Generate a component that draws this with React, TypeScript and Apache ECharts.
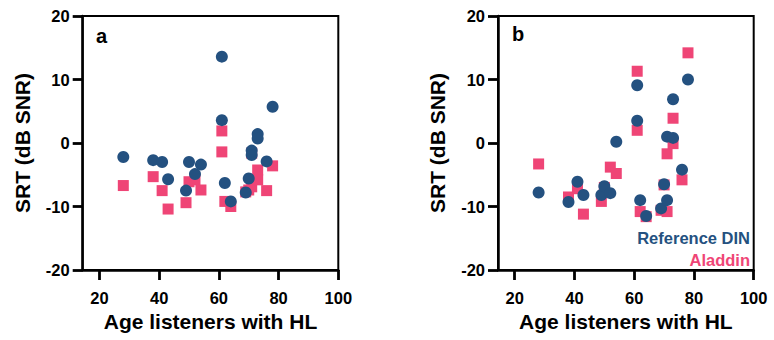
import React, { useEffect, useRef } from "react";
import * as echarts from "echarts";

const ages = [28, 38, 41, 43, 49, 50, 52, 54, 61, 61, 62, 64, 69, 70, 71, 71, 73, 73, 76, 78];
const refA = [-2.2, -2.7, -3.0, -5.7, -7.5, -3.0, -4.9, -3.4, 13.6, 3.6, -6.3, -9.2, -7.8, -5.6, -1.2, -1.9, 1.4, 0.7, -2.9, 5.7];
const aladdinA = [-6.7, -5.3, -7.5, -10.4, -9.4, -6.1, -5.8, -7.4, 1.9, -1.4, -9.2, -10.0, -7.7, -7.4, -1.6, -6.9, -4.25, -5.8, -7.5, -3.6];
const refB = [-7.8, -9.3, -6.1, -8.2, -8.2, -6.8, -7.9, 0.2, 9.1, 3.5, -9.0, -11.5, -10.3, -6.5, 1.0, -9.0, 0.8, 6.9, -4.2, 10.0];
const aladdinB = [-3.3, -8.5, -7.2, -11.2, -9.2, -7.0, -3.8, -4.8, 11.3, 2.0, -10.8, -11.6, -10.6, -6.6, -1.7, -10.8, -0.1, 3.9, -5.8, 14.2];
const xTicks = [20, 40, 60, 80, 100];
const panelLabels = ["a", "b"];
const seriesNames = ["Reference DIN", "Aladdin"];

const BLUE = "#245180";
const PINK = "#ef4576";
const FONT = "Liberation Sans, Arial, sans-serif";

export default function App() {
  const ref = useRef<HTMLDivElement>(null);
  useEffect(() => {
    document.body.style.margin = "0";
    const chart = echarts.init(ref.current!, null, { renderer: "svg" });
    const grids = [
      { left: 82.7, top: 16, width: 255.6, height: 254 },
      { left: 498, top: 16, width: 255.7, height: 254 },
    ];
    const xAxis = grids.map((_, i) => ({
      type: "value",
      gridIndex: i,
      min: 14.4,
      max: 100,
      name: "Age listeners with HL",
      nameLocation: "middle",
      nameGap: 39,
      nameTextStyle: { fontFamily: FONT, fontWeight: "bold", fontSize: 21, color: "#000" },
      axisLine: { show: true, onZero: false, lineStyle: { color: "#000", width: 2.5 } },
      axisTick: { show: true, customValues: xTicks, length: 10, lineStyle: { color: "#000", width: 2.8 } },
      axisLabel: { customValues: xTicks, margin: 19, fontFamily: FONT, fontWeight: "bold", fontSize: 16.5, color: "#000" },
      splitLine: { show: false },
    }));
    const yAxis = grids.map((_, i) => ({
      type: "value",
      gridIndex: i,
      min: -20,
      max: 20,
      interval: 10,
      name: "SRT (dB SNR)",
      nameLocation: "middle",
      nameGap: 50,
      nameTextStyle: { fontFamily: FONT, fontWeight: "bold", fontSize: 21, color: "#000" },
      axisLine: { show: true, onZero: false, lineStyle: { color: "#000", width: 2.5 } },
      axisTick: { show: true, length: 10, lineStyle: { color: "#000", width: 2.8 } },
      axisLabel: { margin: 13, fontFamily: FONT, fontWeight: "bold", fontSize: 16.5, color: "#000" },
      splitLine: { show: false },
    }));
    const mk = (xs: number[], ys: number[]) => xs.map((x, i) => [x, ys[i]]);
    const panels = [
      { ref: refA, al: aladdinA },
      { ref: refB, al: aladdinB },
    ];
    const series: any[] = [];
    panels.forEach((p, i) => {
      series.push({
        type: "scatter",
        name: seriesNames[1],
        xAxisIndex: i,
        yAxisIndex: i,
        symbol: "rect",
        symbolSize: 11,
        itemStyle: { color: PINK, opacity: 1 },
        data: mk(ages, p.al),
        z: 2,
      });
      series.push({
        type: "scatter",
        name: seriesNames[0],
        xAxisIndex: i,
        yAxisIndex: i,
        symbol: "circle",
        symbolSize: 12,
        itemStyle: { color: BLUE, opacity: 1 },
        data: mk(ages, p.ref),
        z: 3,
      });
    });
    chart.setOption({
      animation: false,
      grid: grids.map((g) => ({ ...g, show: true, borderColor: "#000", borderWidth: 2, backgroundColor: "transparent", containLabel: false, outerBoundsMode: "none" })),
      xAxis,
      yAxis,
      series,
      graphic: [
        { type: "text", left: 96, top: 26, style: { text: panelLabels[0], font: `bold 20px ${FONT}`, fill: "#000" } },
        { type: "text", left: 512, top: 24, style: { text: panelLabels[1], font: `bold 20px ${FONT}`, fill: "#000" } },
        { type: "text", x: 750, y: 238, style: { text: seriesNames[0], font: `bold 16.5px ${FONT}`, fill: BLUE, align: "right", verticalAlign: "middle" } },
        { type: "text", x: 750, y: 260, style: { text: seriesNames[1], font: `bold 16.5px ${FONT}`, fill: PINK, align: "right", verticalAlign: "middle" } },
      ],
    });
    return () => chart.dispose();
  }, []);
  return <div ref={ref} style={{ width: 774, height: 340 }} />;
}
